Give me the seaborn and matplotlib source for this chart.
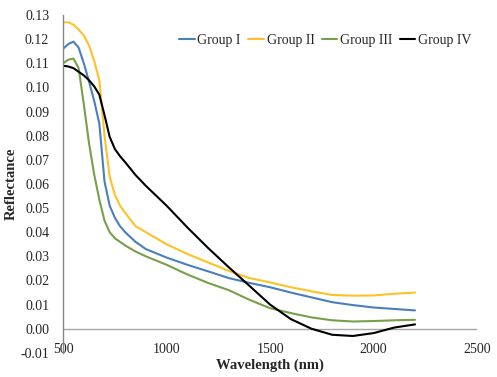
import matplotlib
matplotlib.use("Agg")
import matplotlib.pyplot as plt
import seaborn as sns
import pandas as pd

# wavelengths (nm) and mean reflectance per group
wavelength = [500, 525, 550, 575, 600, 625, 650, 675, 700, 725, 750, 775, 800, 850, 900,
              1000, 1100, 1200, 1300, 1400, 1500, 1600, 1700, 1800, 1900, 2000, 2100, 2200]

group_1 = [0.116, 0.118, 0.119, 0.1165, 0.110, 0.1025, 0.0945, 0.085, 0.061, 0.051, 0.046,
           0.0425, 0.040, 0.036, 0.033, 0.0295, 0.0265, 0.0238, 0.021, 0.019, 0.0172,
           0.015, 0.013, 0.011, 0.0098, 0.0088, 0.0082, 0.0076]
group_2 = [0.127, 0.127, 0.126, 0.124, 0.1215, 0.1175, 0.111, 0.103, 0.080, 0.063, 0.0555,
           0.051, 0.048, 0.0425, 0.040, 0.035, 0.031, 0.0275, 0.024, 0.021, 0.0192,
           0.0172, 0.0155, 0.014, 0.0137, 0.0138, 0.0145, 0.015]
group_3 = [0.110, 0.1115, 0.112, 0.108, 0.093, 0.077, 0.064, 0.0535, 0.0448, 0.040, 0.0375,
           0.036, 0.0345, 0.032, 0.030, 0.0265, 0.0225, 0.019, 0.016, 0.012, 0.0085,
           0.0065, 0.0047, 0.0035, 0.003, 0.0032, 0.0035, 0.0037]
group_4 = [0.109, 0.1087, 0.108, 0.1065, 0.105, 0.103, 0.1005, 0.097, 0.0885, 0.0795,
           0.0745, 0.0715, 0.069, 0.0637, 0.0592, 0.051, 0.042, 0.0335, 0.0255, 0.0178,
           0.010, 0.004, 0.000, -0.0025, -0.003, -0.0018, 0.0005, 0.0018]

group_names = ["Group I", "Group II", "Group III", "Group IV"]
colors = ["#4a7ebf", "#ffc12a", "#77a04a", "#000000"]

df = pd.DataFrame({"Wavelength": wavelength, "Group I": group_1, "Group II": group_2,
                   "Group III": group_3, "Group IV": group_4})
long = df.melt(id_vars="Wavelength", var_name="Group", value_name="Reflectance")

sns.set_style("white")
plt.rcParams["font.family"] = ["Liberation Serif", "DejaVu Serif"]

fig = plt.figure(figsize=(4.97, 3.77), dpi=100)
ax = fig.add_axes([0.127, 0.064, 0.833, 0.896])

sns.lineplot(data=long, x="Wavelength", y="Reflectance", hue="Group",
             hue_order=group_names, palette=colors, linewidth=1.5, ax=ax)

ax.axhline(0, color="#a6a6a6", linewidth=1, zorder=0)
ax.set_xlim(500, 2500)
ax.set_ylim(-0.01, 0.13)
ax.set_xticks([500, 1000, 1500, 2000, 2500])
ax.set_yticks([i / 100 for i in range(-1, 14)])
ax.set_yticklabels([f"{i / 100:.2f}" for i in range(-1, 14)])

for s in ["top", "right", "bottom"]:
    ax.spines[s].set_visible(False)
ax.spines["left"].set_color("#868686")
ax.spines["left"].set_linewidth(1)

ax.tick_params(axis="both", length=0, labelsize=10)
ax.tick_params(axis="x", pad=-7)
ax.tick_params(axis="y", pad=10)

ax.set_xlabel("Wavelength (nm)", fontsize=10.5, fontweight="bold", labelpad=2)
ax.set_ylabel("Reflectance", fontsize=10.5, fontweight="bold", labelpad=2)

ax.legend(loc="upper right", bbox_to_anchor=(1.0, 0.96), ncol=4, frameon=False,
          fontsize=10, handlelength=1.1, handletextpad=0.2, columnspacing=0.55,
          borderaxespad=0)

fig.savefig("out.png", dpi=100)
